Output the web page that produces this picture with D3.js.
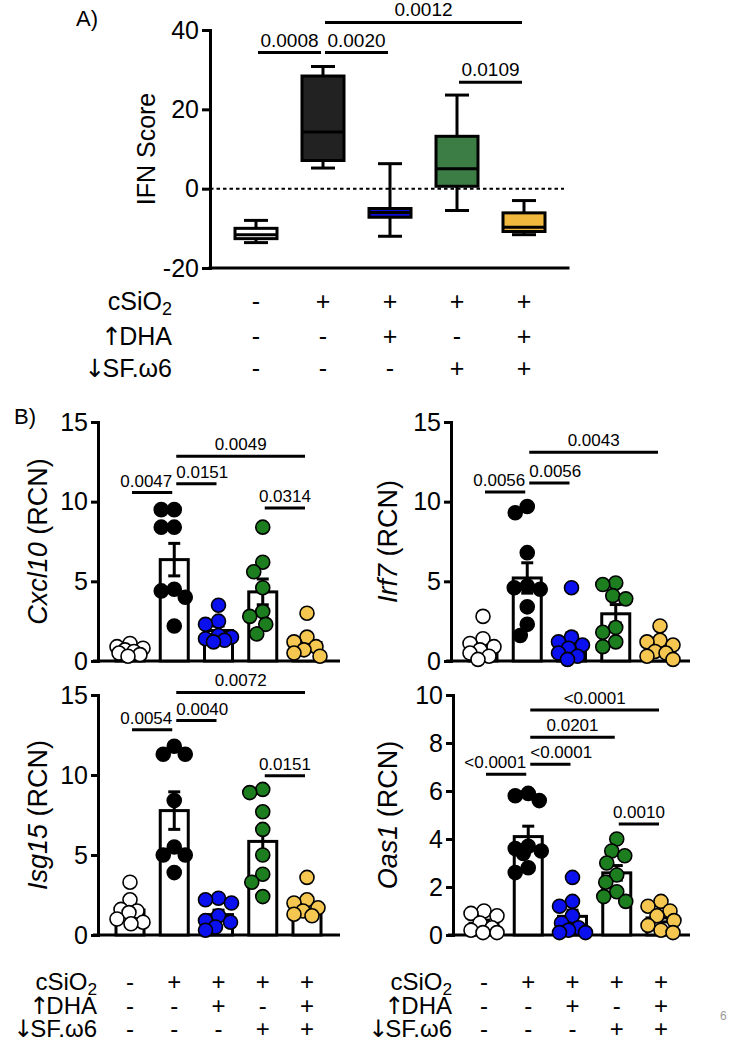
<!DOCTYPE html>
<html><head><meta charset="utf-8">
<script src="https://cdn.jsdelivr.net/npm/d3@7"></script>
<style>
body{margin:0;background:#fff}
svg{display:block}
text{font-family:"Liberation Sans",Arial,sans-serif;fill:#000}
.arrow{font-family:"DejaVu Sans";font-weight:normal;fill:#000}
</style>
</head><body>
<svg id="c" width="730" height="1043"></svg>
<script>
// ---------------- DATA ----------------
const groups = ["Control","cSiO2","cSiO2+DHA","cSiO2+SFw6","cSiO2+DHA+SFw6"];
const rowNames = ["cSiO2","↑DHA","↓SF.ω6"];
const signSiO2 = ["-","+","+","+","+"];
const signDHA  = ["-","-","+","-","+"];
const signSF   = ["-","-","-","+","+"];

// Panel A: IFN score box plots (min, Q1, median, Q3, max)
const ifnMin    = [-13.6,  5.2, -12.0, -5.5, -11.6];
const ifnQ1     = [-12.6,  7.1,  -7.2,  0.6, -10.8];
const ifnMedian = [-11.6, 14.3,  -6.0,  5.0,  -9.7];
const ifnQ3     = [-10.0, 28.4,  -5.0, 13.2,  -6.1];
const ifnMax    = [ -8.0, 30.8,   6.3, 23.6,  -3.0];
const ifnTicks  = [-20, 0, 20, 40];
const ifnComparisons = [
  {a:0, b:1, level:34.3, p:"0.0008"},
  {a:1, b:2, level:34.3, p:"0.0020"},
  {a:1, b:4, level:41.9, p:"0.0012"},
  {a:3, b:4, level:26.8, p:"0.0109"}
];

// Panel B: relative copy number, one list per group
const cxcl10 = [
  [1.1, 0.9, 0.8, 0.7, 0.6, 0.5, 0.4, 0.3],
  [9.5, 9.5, 8.4, 8.4, 4.5, 4.4, 4.0, 2.2],
  [3.5, 2.5, 2.3, 1.6, 1.5, 1.4, 1.3, 1.2],
  [8.4, 6.2, 5.6, 4.6, 3.1, 2.8, 2.3, 1.7],
  [3.0, 1.5, 1.2, 0.9, 0.7, 0.5, 0.3]
];
const cxcl10Comparisons = [
  {a:0, b:1, level:10.57, p:"0.0047"},
  {a:1, b:2, level:11.13, p:"0.0151"},
  {a:1, b:4, level:12.85, p:"0.0049"},
  {a:3, b:4, level:9.6,  p:"0.0314"}
];
const irf7 = [
  [2.8, 1.4, 1.1, 0.9, 0.7, 0.5, 0.3, 0.1],
  [9.7, 9.3, 6.8, 4.7, 4.6, 4.5, 3.4, 2.3, 1.6],
  [4.6, 1.5, 1.2, 1.0, 0.8, 0.5, 0.3, 0.1],
  [4.9, 4.8, 4.1, 3.9, 2.1, 1.8, 1.2, 0.9],
  [2.2, 1.3, 1.2, 1.0, 0.6, 0.5, 0.3, 0.1]
];
const irf7Comparisons = [
  {a:0, b:1, level:10.6,  p:"0.0056"},
  {a:1, b:2, level:11.17, p:"0.0056"},
  {a:1, b:4, level:13.1,  p:"0.0043"}
];
const isg15 = [
  [3.3, 2.2, 1.6, 1.5, 1.4, 1.0, 0.8, 0.7],
  [11.8, 11.3, 11.3, 8.4, 5.5, 5.0, 5.0, 3.9],
  [2.3, 2.2, 2.0, 1.2, 0.9, 0.8, 0.5, 0.3],
  [9.1, 8.9, 7.7, 6.6, 5.0, 3.8, 3.3, 2.4],
  [3.6, 2.2, 2.0, 1.7, 1.5, 1.3, 1.2]
];
const isg15Comparisons = [
  {a:0, b:1, level:12.83, p:"0.0054"},
  {a:1, b:2, level:13.4,  p:"0.0040"},
  {a:1, b:4, level:15.16, p:"0.0072"},
  {a:3, b:4, level:9.96,  p:"0.0151"}
];
const oas1 = [
  [1.0, 0.9, 0.8, 0.5, 0.3, 0.2, 0.1, 0.1],
  [5.9, 5.8, 5.6, 3.7, 3.6, 3.5, 3.4, 2.8, 2.6],
  [2.4, 1.4, 1.2, 0.8, 0.5, 0.3, 0.2, 0.1, 0.1],
  [4.0, 3.5, 3.3, 3.0, 2.5, 2.2, 1.8, 1.6, 1.4],
  [1.4, 1.2, 1.0, 0.8, 0.6, 0.4, 0.2, 0.1]
];
const oas1Comparisons = [
  {a:0, b:1, level:6.7,  p:"<0.0001"},
  {a:1, b:2, level:7.11, p:"<0.0001"},
  {a:1, b:3, level:8.24, p:"0.0201"},
  {a:1, b:4, level:9.38, p:"<0.0001"},
  {a:3, b:4, level:4.63, p:"0.0010"}
];
const ticks15 = [0, 5, 10, 15];
const ticks10 = [0, 2, 4, 6, 8, 10];

// ---------------- STYLE ----------------
const boxFill = ["#ffffff", "#222222", "#0f0fd6", "#3b7d44", "#f1b83e"];
const dotFill = ["#ffffff", "#000000", "#0a10ee", "#1d7e1f", "#f5c650"];

const svg = d3.select("#c");

function styleAxis(g, fs) {
  g.select(".domain").attr("stroke-width", 3).attr("stroke-linecap", "square");
  g.selectAll(".tick line").attr("stroke-width", 3);
  g.selectAll(".tick text").style("font-size", fs + "px").attr("fill", "#000");
}

function rowLabel(t, name, fs) {
  const first = name.charAt(0);
  if (first === "↑" || first === "↓") {
    t.append("tspan").attr("class", "arrow").attr("dx", 0).text(first);
    t.append("tspan").attr("dx", -3).text(name.slice(1));
  } else {
    t.append("tspan").text(name.slice(0, -1));
    t.append("tspan").attr("dy", 5).style("font-size", (fs * 0.72) + "px").text(name.slice(-1));
  }
}

function drawRows(g, x, labelX, baselines, fs) {
  const rows = [signSiO2, signDHA, signSF];
  rows.forEach((signs, ri) => {
    const t = g.append("text").attr("x", labelX).attr("y", baselines[ri])
      .attr("text-anchor", "end").style("font-size", fs + "px");
    rowLabel(t, rowNames[ri], fs);
    g.selectAll(null).data(signs).enter().append("text")
      .attr("x", (d, i) => x(groups[i])).attr("y", baselines[ri])
      .attr("text-anchor", "middle").style("font-size", fs + "px").text(d => d);
  });
}

function drawComparisons(g, x, y, comps, fs, gap) {
  const labels = [];
  comps.forEach(c => {
    const x1 = x(groups[c.a]) + 2, x2 = x(groups[c.b]) - 2, yy = y(c.level);
    g.append("line").attr("x1", x1).attr("x2", x2).attr("y1", yy).attr("y2", yy)
      .attr("stroke", "#000").attr("stroke-width", 3);
    const t = g.append("text").attr("x", (x1 + x2) / 2).attr("y", yy - gap)
      .attr("text-anchor", "middle").style("font-size", fs + "px").text(c.p);
    labels.push(t);
  });
  for (let i = 0; i < labels.length; i++) {
    for (let j = 0; j < labels.length; j++) {
      if (i === j) continue;
      const bi = labels[i].node().getBBox(), bj = labels[j].node().getBBox();
      if (bi.x > bj.x) continue;
      const vOver = bi.y < bj.y + bj.height - 2 && bj.y < bi.y + bi.height - 2;
      const hOver = bi.x + bi.width + 4 - bj.x;
      if (vOver && hOver > 0) {
        labels[i].attr("x", +labels[i].attr("x") - hOver / 2);
        labels[j].attr("x", +labels[j].attr("x") + hOver / 2);
      }
    }
  }
}

// ---------------- PANEL A ----------------
(function () {
  const g = svg.append("g");
  const x = d3.scalePoint().domain(groups).range([256, 524]);
  const y = d3.scaleLinear().domain([-20, 40]).range([268, 30]);
  const axisX = 210;

  g.append("text").attr("x", 76).attr("y", 26).style("font-size", "22px").text("A)");

  const ya = g.append("g").attr("transform", `translate(${axisX},0)`)
    .call(d3.axisLeft(y).tickValues(ifnTicks).tickSize(8).tickSizeOuter(0).tickPadding(3).tickFormat(d => String(d)));
  styleAxis(ya, 25);
  g.append("line").attr("x1", axisX).attr("x2", 568).attr("y1", y(-20)).attr("y2", y(-20))
    .attr("stroke", "#000").attr("stroke-width", 3).attr("stroke-linecap", "square");
  g.append("text").attr("transform", `translate(155,${(y(40) + y(-20)) / 2}) rotate(-90)`)
    .attr("text-anchor", "middle").style("font-size", "25px").text("IFN Score");

  g.append("line").attr("x1", axisX).attr("x2", 564).attr("y1", y(0)).attr("y2", y(0))
    .attr("stroke", "#000").attr("stroke-width", 2).attr("stroke-dasharray", "3.5,3");

  const hw = 21, cw = 12;
  groups.forEach((gr, i) => {
    const cx = x(gr);
    const bg = g.append("g");
    bg.append("line").attr("x1", cx).attr("x2", cx).attr("y1", y(ifnMax[i])).attr("y2", y(ifnQ3[i])).attr("stroke", "#000").attr("stroke-width", 3);
    bg.append("line").attr("x1", cx).attr("x2", cx).attr("y1", y(ifnQ1[i])).attr("y2", y(ifnMin[i])).attr("stroke", "#000").attr("stroke-width", 3);
    bg.append("line").attr("x1", cx - cw).attr("x2", cx + cw).attr("y1", y(ifnMax[i])).attr("y2", y(ifnMax[i])).attr("stroke", "#000").attr("stroke-width", 3);
    bg.append("line").attr("x1", cx - cw).attr("x2", cx + cw).attr("y1", y(ifnMin[i])).attr("y2", y(ifnMin[i])).attr("stroke", "#000").attr("stroke-width", 3);
    bg.append("rect").attr("x", cx - hw).attr("width", hw * 2)
      .attr("y", y(ifnQ3[i])).attr("height", y(ifnQ1[i]) - y(ifnQ3[i]))
      .attr("fill", boxFill[i]).attr("stroke", "#000").attr("stroke-width", 3);
    bg.append("line").attr("x1", cx - hw).attr("x2", cx + hw).attr("y1", y(ifnMedian[i])).attr("y2", y(ifnMedian[i]))
      .attr("stroke", "#000").attr("stroke-width", 3);
  });

  drawComparisons(g, x, y, ifnComparisons, 19, 6);
  drawRows(g, x, 172, [310, 345, 377], 25);
})();

// ---------------- PANEL B ----------------
function swarm(vals, y, r) {
  const placed = [];
  const res = new Array(vals.length);
  const order = vals.map((v, i) => i).sort((a, b) => vals[b] - vals[a]);
  const minD = 2 * r - 1, maxOff = 13;
  order.forEach(i => {
    const py = y(vals[i]);
    let chosen = null, bestOff = 0, bestD = -1;
    for (let k = 0; k <= 2 * maxOff; k++) {
      const off = k === 0 ? 0 : (k % 2 ? -Math.ceil(k / 2) : Math.ceil(k / 2));
      let dmin = Infinity;
      placed.forEach(p => { dmin = Math.min(dmin, Math.hypot(p.x - off, p.y - py)); });
      if (dmin >= minD) { chosen = off; break; }
      if (dmin > bestD) { bestD = dmin; bestOff = off; }
    }
    if (chosen === null) chosen = bestOff;
    placed.push({x: chosen, y: py});
    res[i] = chosen;
  });
  return res;
}

function drawBarPanel(o) {
  const g = svg.append("g");
  const x = d3.scalePoint().domain(groups).range(o.xRange);
  const y = d3.scaleLinear().domain([0, o.max]).range(o.yRange);

  const ya = g.append("g").attr("transform", `translate(${o.axisX},0)`)
    .call(d3.axisLeft(y).tickValues(o.ticks).tickSize(7).tickSizeOuter(0).tickPadding(3));
  styleAxis(ya, 25);
  g.append("line").attr("x1", o.axisX - 5).attr("x2", o.xEnd).attr("y1", y(0)).attr("y2", y(0))
    .attr("stroke", "#000").attr("stroke-width", 3);

  const lab = g.append("text")
    .attr("transform", `translate(${o.labelX},${(o.yRange[0] + o.yRange[1]) / 2}) rotate(-90)`)
    .attr("text-anchor", "middle").style("font-size", "27px");
  lab.append("tspan").style("font-style", "italic").text(o.gene);
  lab.append("tspan").text(" (RCN)");

  const r = 7, bw = 14;
  o.data.forEach((vals, i) => {
    const cx = x(groups[i]);
    const m = d3.mean(vals), sem = d3.deviation(vals) / Math.sqrt(vals.length);
    g.append("rect").attr("x", cx - bw).attr("width", bw * 2)
      .attr("y", y(m)).attr("height", y(0) - y(m))
      .attr("fill", "#fff").attr("stroke", "#000").attr("stroke-width", 3);
    const eg = g.append("g").attr("stroke", "#000").attr("stroke-width", 3);
    eg.append("line").attr("x1", cx).attr("x2", cx).attr("y1", y(m + sem)).attr("y2", y(Math.max(0, m - sem)));
    eg.append("line").attr("x1", cx - 6).attr("x2", cx + 6).attr("y1", y(m + sem)).attr("y2", y(m + sem));
    eg.append("line").attr("x1", cx - 6).attr("x2", cx + 6).attr("y1", y(Math.max(0, m - sem))).attr("y2", y(Math.max(0, m - sem)));
    const offs = swarm(vals, y, r);
    g.selectAll(null).data(vals).enter().append("circle")
      .attr("cx", (d, k) => cx + offs[k]).attr("cy", d => y(d)).attr("r", r)
      .attr("fill", dotFill[i]).attr("stroke", "#000").attr("stroke-width", 1.6);
  });

  drawComparisons(g, x, y, o.comps, 17, 6);
  if (o.rows) drawRows(g, x, o.rowLabelX, [990, 1014, 1037], 24);
}

svg.append("text").attr("x", 14).attr("y", 424).style("font-size", "22px").text("B)");

drawBarPanel({data: cxcl10, comps: cxcl10Comparisons, gene: "Cxcl10", max: 15, ticks: ticks15,
  xRange: [130, 307], yRange: [661, 422], axisX: 98, xEnd: 340, labelX: 47});
drawBarPanel({data: irf7, comps: irf7Comparisons, gene: "Irf7", max: 15, ticks: ticks15,
  xRange: [483, 660], yRange: [661, 422], axisX: 451, xEnd: 690, labelX: 397});
drawBarPanel({data: isg15, comps: isg15Comparisons, gene: "Isg15", max: 15, ticks: ticks15,
  xRange: [130, 307], yRange: [935, 695], axisX: 98, xEnd: 340, labelX: 47, rows: true, rowLabelX: 97});
drawBarPanel({data: oas1, comps: oas1Comparisons, gene: "Oas1", max: 10, ticks: ticks10,
  xRange: [484, 661], yRange: [935, 695], axisX: 453, xEnd: 690, labelX: 397, rows: true, rowLabelX: 452});

svg.append("text").attr("x", 720).attr("y", 1020).style("font-size", "12px").style("fill", "#999").text("6");
</script>
</body></html>
